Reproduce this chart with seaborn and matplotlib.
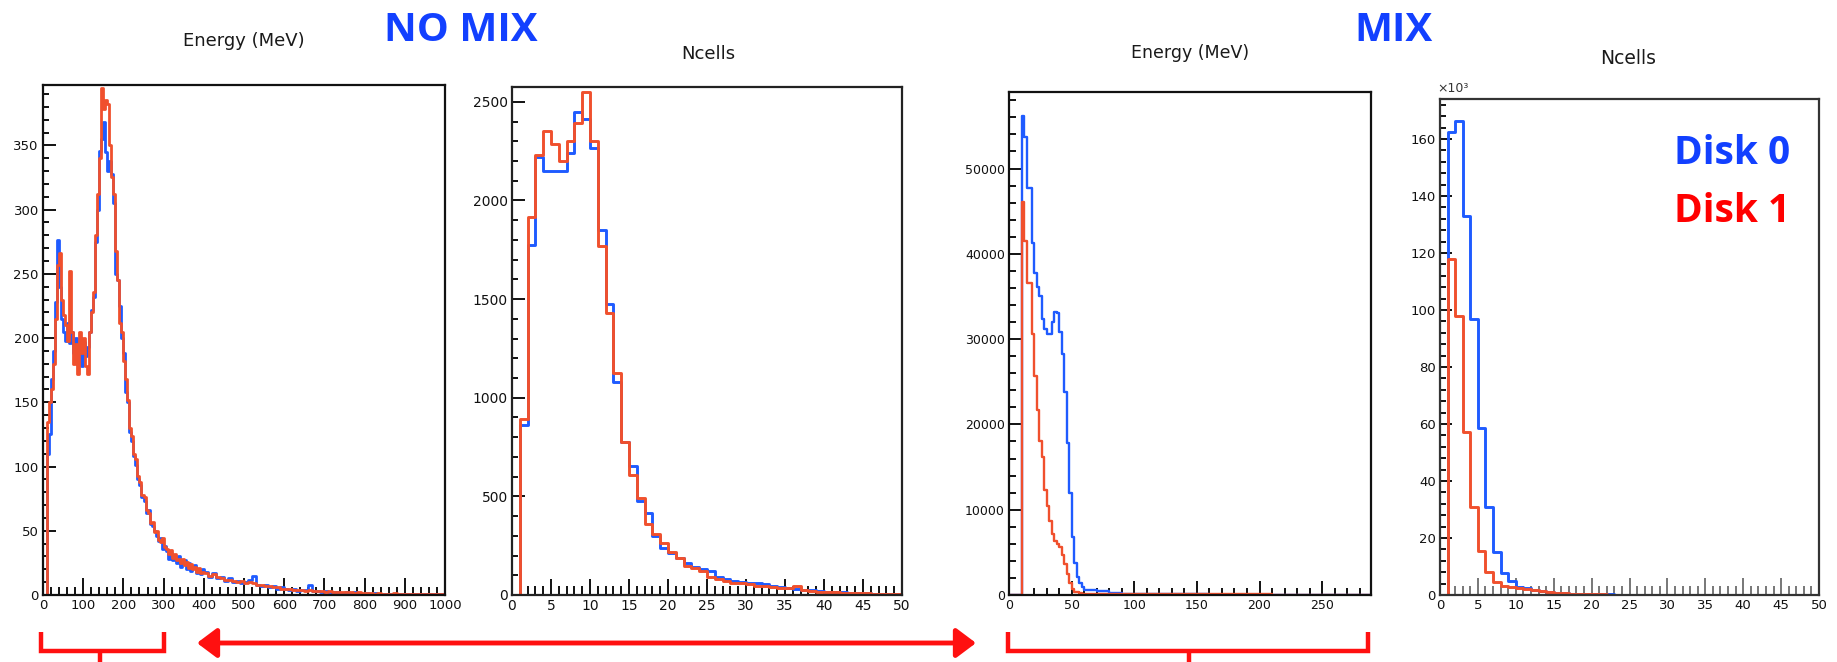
import numpy as np
import pandas as pd
import matplotlib
matplotlib.use("Agg")
import matplotlib.pyplot as plt
import seaborn as sns
from matplotlib.lines import Line2D
from matplotlib.patches import FancyArrowPatch
from matplotlib.ticker import MultipleLocator, FormatStrFormatter

# ---------------- data ----------------
series_names = ["Disk 0", "Disk 1"]
panel_titles = ["Energy (MeV)", "Ncells", "Energy (MeV)", "Ncells"]
group_labels = ["NO MIX", "MIX"]

# NO MIX energy: 5 MeV bins to 400, 10 MeV bins to 1000
nomix_energy_edges = list(range(0, 400, 5)) + list(range(400, 1000, 10)) + [1000]
nomix_energy_disk0 = [
    0, 0, 110, 125, 168, 190, 228, 276, 240, 215,
    205, 198, 212, 196, 205, 188, 200, 182, 190, 178,
    197, 186, 193, 205, 222, 232, 275, 300, 346, 355,
    368, 345, 330, 338, 328, 305, 250, 245, 225, 200,
    188, 158, 150, 127, 120, 108, 101, 90, 86, 76,
    73, 64, 66, 55, 54, 50, 46, 42, 44, 36,
    38, 34, 28, 33, 27, 30, 25, 30, 22, 26,
    27, 20, 25, 19, 21, 23, 17, 20, 16, 20,
    18, 14, 17, 13, 14, 11, 13, 10, 11, 9,
    10, 12, 15, 8, 7, 8, 6, 7, 5, 6,
    5, 4, 5, 3, 4, 4, 8, 3, 3, 2,
    3, 2, 2, 2, 1.5, 2, 1.5, 2, 1.5, 1,
    1.5, 1, 1.5, 1, 1, 1, 1, 1, 1, 1,
    1, 0.8, 1, 0.8, 1, 0.8, 1, 0.8, 1, 1,
]
nomix_energy_disk1 = [
    0, 0, 135, 150, 160, 180, 215, 257, 266, 230,
    218, 210, 198, 252, 205, 180, 195, 172, 205, 188,
    200, 178, 172, 205, 220, 236, 280, 312, 340, 395,
    378, 385, 382, 350, 325, 312, 268, 245, 212, 205,
    182, 168, 152, 130, 124, 110, 106, 93, 88, 78,
    76, 66, 64, 56, 57, 49, 50, 43, 41, 44,
    37, 36, 32, 35, 29, 32, 27, 28, 25, 28,
    23, 26, 21, 24, 20, 22, 18, 21, 17, 18,
    17, 15, 16, 14, 13, 12, 12, 11, 10, 11,
    9, 10, 9, 8, 8, 7, 7, 6, 6, 5,
    5, 5, 4, 4, 4, 3, 4, 3, 3, 3,
    2, 3, 2, 2, 2, 2, 2, 1.5, 2, 1.5,
    1.5, 1.5, 1, 1.5, 1, 1, 1, 1.5, 1, 1,
    1, 1, 1, 1, 0.8, 1, 0.8, 1, 0.8, 1,
]

# NO MIX Ncells: unit bins 0..50
ncells_edges = list(range(0, 51))
nomix_ncells_disk0 = [
    0, 860, 1774, 2218, 2149, 2149, 2149, 2241, 2446, 2414,
    2264, 1852, 1475, 1078, 778, 653, 479, 414, 297, 236,
    215, 190, 163, 140, 130, 121, 92, 79, 73, 67,
    63, 59, 54, 45, 40, 35, 30, 27, 24, 20,
    17, 15, 13, 11, 9, 8, 7, 6, 5, 4,
]
nomix_ncells_disk1 = [
    0, 893, 1918, 2228, 2350, 2285, 2201, 2299, 2395, 2552,
    2299, 1768, 1429, 1123, 778, 609, 494, 360, 308, 264,
    220, 188, 149, 136, 121, 92, 79, 73, 63, 59,
    54, 48, 44, 40, 34, 37, 48, 25, 21, 17,
    15, 13, 11, 10, 9, 8, 7, 6, 5, 4,
]

# MIX energy: 0-10 empty, 2 MeV bins 10-60, 10 MeV bins 60-290
mix_energy_edges = [0] + list(range(10, 60, 2)) + list(range(60, 300, 10))
mix_energy_disk0 = [
    0,
    56200, 53700, 47700, 47700, 41300, 37800, 36100, 35100, 32300, 31200,
    30600, 30600, 32000, 33200, 33100, 30800, 28200, 23800, 17800, 11900,
    6800, 3700, 2100, 1400, 900,
    600, 500, 220, 160, 150, 130, 120, 110, 100, 90, 0, 0,
    0, 0, 0, 0, 0, 0, 0, 0, 0, 0, 0,
]
mix_energy_disk1 = [
    0,
    46100, 41500, 36600, 36600, 30600, 25700, 21700, 18100, 16200, 12300,
    10400, 8700, 7200, 6300, 6000, 5600, 4700, 3600, 2500, 1400,
    700, 400, 300, 200, 150,
    120, 90, 80, 80, 80, 80, 80, 70, 70, 70, 70, 60,
    60, 60, 60, 0, 0, 0, 0, 0, 0, 0, 0,
]

# MIX Ncells (in units of 10^3)
mix_ncells_disk0 = [
    0, 162.3, 166.3, 133.0, 96.9, 58.5, 30.9, 15.0, 7.6, 4.9,
    2.9, 2.3, 1.7, 1.3, 1.0, 0.8, 0.6, 0.5, 0.4, 0.3,
    0.3, 0.2, 0.2, 0, 0, 0, 0, 0, 0, 0,
    0, 0, 0, 0, 0, 0, 0, 0, 0, 0,
    0, 0, 0, 0, 0, 0, 0, 0, 0, 0,
]
mix_ncells_disk1 = [
    0, 117.8, 97.8, 57.2, 30.9, 15.3, 8.0, 4.7, 3.3, 2.7,
    2.4, 2.0, 1.7, 1.4, 1.0, 0.8, 0.6, 0.5, 0.4, 0.3,
    0.2, 0.2, 0.1, 0, 0, 0, 0, 0, 0, 0,
    0, 0, 0, 0, 0, 0, 0, 0, 0, 0,
    0, 0, 0, 0, 0, 0, 0, 0, 0, 0,
]

# ---------------- style ----------------
sns.set_theme(style="white")
plt.rcParams["font.family"] = ["DejaVu Sans"]

BLUE = "#1f5bff"
RED = "#f0502d"
TEXT_BLUE = "#1240ff"
ANN_RED = "#ff1010"

W, H = 1837, 662
fig = plt.figure(figsize=(W / 100, H / 100), dpi=100)
fig.patch.set_facecolor("white")


def px_axes(left, top, right, bottom):
    return fig.add_axes([left / W, 1 - bottom / H, (right - left) / W, (bottom - top) / H])


def draw(ax, edges, blue, red, lw):
    edges = [float(e) for e in edges]
    centers = [(a + b) / 2 for a, b in zip(edges[:-1], edges[1:])]
    for vals, color in ((blue, BLUE), (red, RED)):
        df = pd.DataFrame({"x": centers, "n": [float(v) for v in vals]})
        sns.histplot(data=df, x="x", weights="n", bins=edges, element="step",
                     fill=False, color=color, linewidth=lw, ax=ax)


def style(ax, xmax, ymax, xmaj, xmin, ymaj, ymin, fs, xlen=(15, 8), ylen=(12, 6),
          xtick_color="#111111", frame_color="#111111"):
    ax.set_xlim(0, xmax)
    ax.set_ylim(0, ymax)
    ax.set_xlabel("")
    ax.set_ylabel("")
    ax.set_facecolor("white")
    ax.xaxis.set_major_locator(MultipleLocator(xmaj))
    ax.xaxis.set_minor_locator(MultipleLocator(xmin))
    ax.yaxis.set_major_locator(MultipleLocator(ymaj))
    ax.yaxis.set_minor_locator(MultipleLocator(ymin))
    ax.xaxis.set_major_formatter(FormatStrFormatter("%d"))
    ax.yaxis.set_major_formatter(FormatStrFormatter("%d"))
    ax.tick_params(which="both", direction="in", top=False, right=False,
                   bottom=True, left=True, labelsize=fs, labelcolor="#111111", pad=3)
    ax.tick_params(axis="x", which="major", length=xlen[0] * 0.72, width=1.4, color=xtick_color)
    ax.tick_params(axis="x", which="minor", length=xlen[1] * 0.72, width=1.4, color=xtick_color)
    ax.tick_params(axis="y", which="major", length=ylen[0] * 0.72, width=1.4, color="#111111")
    ax.tick_params(axis="y", which="minor", length=ylen[1] * 0.72, width=1.4, color="#111111")
    for s in ax.spines.values():
        s.set_visible(True)
        s.set_linewidth(1.6)
        s.set_color(frame_color)


ax1 = px_axes(43, 85, 445, 595)
ax2 = px_axes(512, 87, 902, 595)
ax3 = px_axes(1009, 92, 1371, 595)
ax4 = px_axes(1440, 99, 1819, 595)

draw(ax1, nomix_energy_edges, nomix_energy_disk0, nomix_energy_disk1, 2.0)
style(ax1, 1000, 397, 100, 20, 50, 10, 9.5, xlen=(17, 8), ylen=(13, 6))

draw(ax2, ncells_edges, nomix_ncells_disk0, nomix_ncells_disk1, 2.1)
style(ax2, 50, 2575, 5, 1, 500, 100, 10, xlen=(16, 9), ylen=(13, 6), frame_color="#222222")

draw(ax3, mix_energy_edges, mix_energy_disk0, mix_energy_disk1, 1.7)
style(ax3, 289, 58970, 50, 10, 10000, 2000, 9, xlen=(14, 7), ylen=(13, 7))

draw(ax4, ncells_edges, mix_ncells_disk0, mix_ncells_disk1, 2.1)
style(ax4, 50, 174, 5, 1, 20, 4, 9.5, xlen=(17, 9), ylen=(12, 6),
      xtick_color="#777777", frame_color="#333333")

# panel titles
title_pos = [(244, 41, 13), (708, 54, 13), (1190, 53, 12.5), (1628, 58, 13.5)]
for (x, y, fs), t in zip(title_pos, panel_titles):
    fig.text(x / W, 1 - y / H, t, ha="center", va="center", fontsize=fs, color="#1a1a1a")
fig.text(1437 / W, 1 - 89 / H, "×10³", ha="left", va="center", fontsize=9, color="#333333")

# group labels
fig.text(461 / W, 1 - 41 / H, group_labels[0], ha="center", va="baseline", fontsize=29,
         fontweight="bold", family="Open Sans", color=TEXT_BLUE)
fig.text(1394 / W, 1 - 41 / H, group_labels[1], ha="center", va="baseline", fontsize=29,
         fontweight="bold", family="Open Sans", color=TEXT_BLUE)

# legend-like labels
fig.text(1674 / W, 1 - 164 / H, series_names[0], ha="left", va="baseline", fontsize=28,
         fontweight="bold", family="Open Sans", color=TEXT_BLUE)
fig.text(1674 / W, 1 - 222 / H, series_names[1], ha="left", va="baseline", fontsize=28,
         fontweight="bold", family="Open Sans", color="#ff0000")


# brackets and arrow
def fig_line(xs, ys, lw=3.2):
    fig.add_artist(Line2D([x / W for x in xs], [1 - y / H for y in ys], color=ANN_RED,
                          lw=lw, solid_capstyle="butt", solid_joinstyle="miter",
                          transform=fig.transFigure))


fig_line([41, 41, 164, 164], [632, 651, 651, 632])
fig_line([100, 100], [651, 662])
fig_line([1008, 1008, 1368, 1368], [632, 651, 651, 632])
fig_line([1189, 1189], [651, 662])

arrow = FancyArrowPatch((197 / W, 1 - 643 / H), (976 / W, 1 - 643 / H),
                        transform=fig.transFigure, arrowstyle="<|-|>,head_length=0.6,head_width=0.45",
                        mutation_scale=20, lw=3.5, color=ANN_RED, shrinkA=0, shrinkB=0)
fig.add_artist(arrow)

fig.savefig("out.png", dpi=100, facecolor="white")
